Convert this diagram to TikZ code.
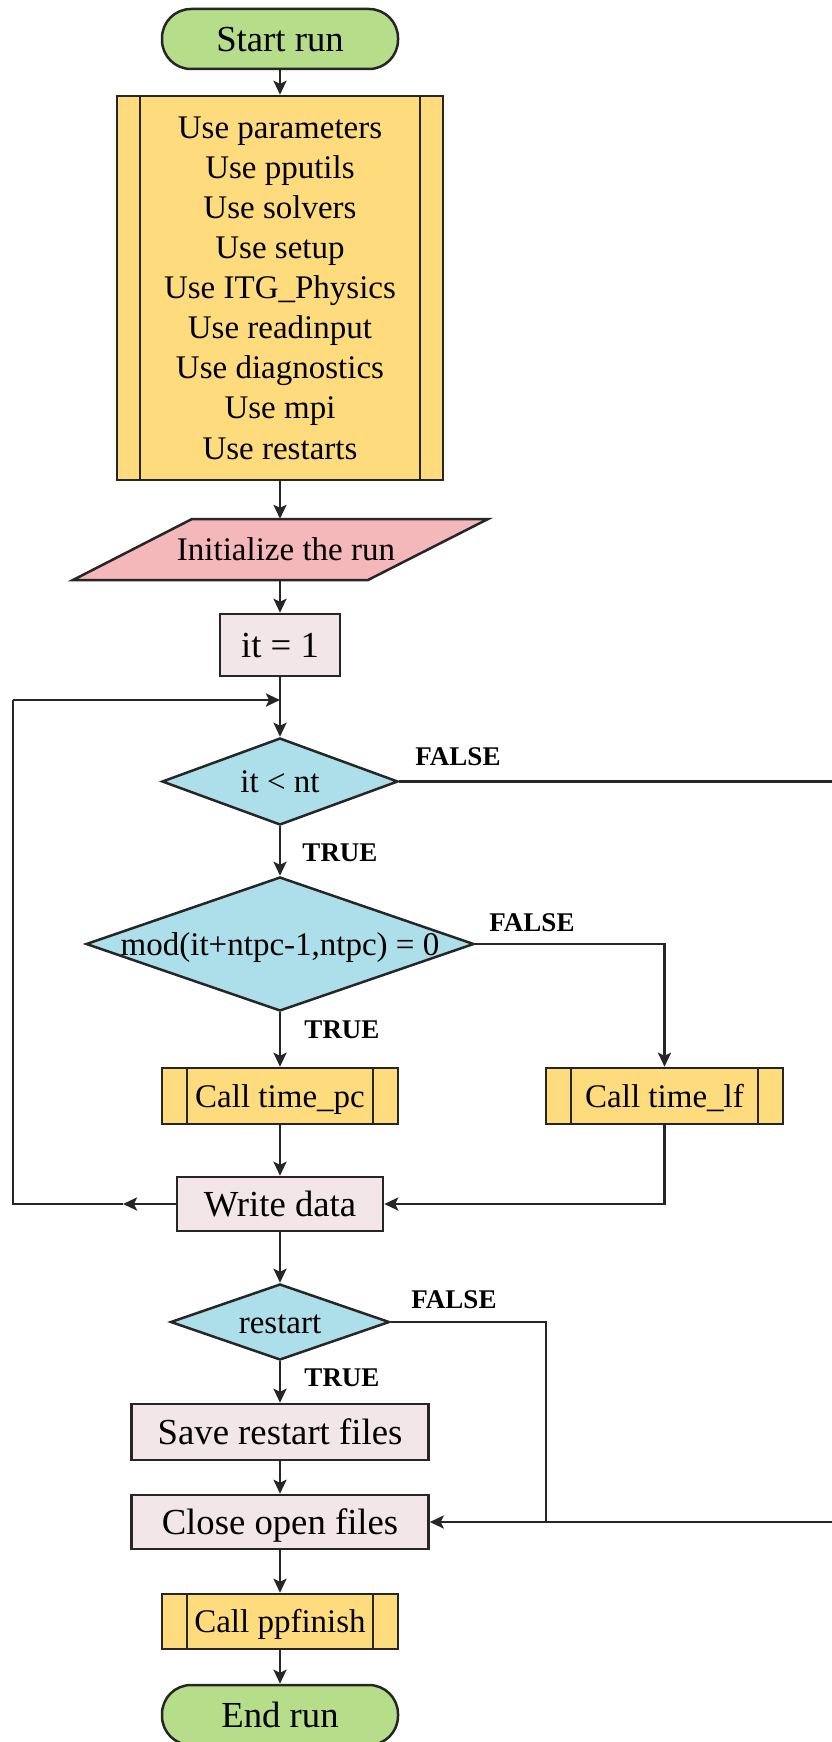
\documentclass[tikz,border=0pt]{standalone}
\usepackage{fontspec}
\setmainfont{Liberation Serif}
\usetikzlibrary{shapes.geometric,arrows.meta}

\definecolor{lineC}{HTML}{262626}
\definecolor{termC}{HTML}{B6DE8A}
\definecolor{subC}{HTML}{FEDC7E}
\definecolor{ioC}{HTML}{F4B7BA}
\definecolor{procC}{HTML}{F3E6E9}
\definecolor{decC}{HTML}{ADDFEA}

\newcommand\bigtxt{\fontsize{36.7}{44}\selectfont}
\newcommand\smtxt{\fontsize{33}{40.1}\selectfont}
\newcommand\lbltxt{\fontsize{27}{30}\selectfont\bfseries}

\tikzset{
  box/.style={draw=lineC, line width=2.5pt, inner sep=0pt, text=black, align=center},
  term/.style={box, fill=termC, rounded corners=29pt, minimum width=236, minimum height=60,
    font=\bigtxt, text height=28.9pt, text depth=3.1pt},
  proc/.style={box, fill=procC, font=\bigtxt, minimum height=55, text height=28.9pt, text depth=3.1pt},
  subr/.style={box, fill=subC, font=\smtxt, minimum width=236, minimum height=56,
    text height=25.5pt, text depth=3.5pt,
    path picture={
      \draw[lineC, line width=2.5pt]
        ([xshift=25pt]path picture bounding box.north west) --
        ([xshift=25pt]path picture bounding box.south west)
        ([xshift=-25pt]path picture bounding box.north east) --
        ([xshift=-25pt]path picture bounding box.south east);}},
  dec/.style={draw=lineC, line width=2.5pt, fill=decC, diamond, inner sep=0pt},
  dtext/.style={font=\smtxt, text height=25.5pt, text depth=3.5pt, inner sep=0pt},
  tf/.style={font=\lbltxt, inner sep=0pt, text=black},
  conn/.style={draw=lineC, line width=2.5pt},
  arr/.style={conn, -{Stealth[length=14pt, width=13pt, inset=3pt]}},
}

\begin{document}
\begin{tikzpicture}[x=1pt, y=-1pt]
\useasboundingbox (0,0) rectangle (831,1742);

% start terminal and module list
\node[term] (start) at (280,39) {Start run};
\node[box, fill=subC, font=\smtxt, minimum width=326, minimum height=384,
  path picture={
    \draw[lineC, line width=2.5pt]
      ([xshift=23pt]path picture bounding box.north west) --
      ([xshift=23pt]path picture bounding box.south west)
      ([xshift=-23pt]path picture bounding box.north east) --
      ([xshift=-23pt]path picture bounding box.south east);}]
  (mods) at (280,288) {Use parameters\\Use pputils\\Use solvers\\Use setup\\Use ITG\_Physics\\
  Use readinput\\Use diagnostics\\Use mpi\\Use restarts};

% input/output parallelogram
\filldraw[draw=lineC, line width=2.5pt, fill=ioC]
  (192,519) -- (488,519) -- (368,580) -- (73,580) -- cycle;
\node[font=\smtxt, inner sep=0pt, minimum height=61, text height=25.5pt, text depth=3.5pt]
  (init) at (286,549.5) {Initialize the run};

\node[proc, minimum width=120, minimum height=62] (it1) at (280,645) {it = 1};

% loop test
\node[dec, minimum width=236, minimum height=87,
  label={[dtext]center:it < nt}] (d1) at (280,781.5) {};
\node[dec, minimum width=388, minimum height=134,
  label={[dtext]center:mod(it+ntpc-1,ntpc) = 0}] (d2) at (280,944) {};

\node[subr] (tpc) at (280,1096) {Call time\_pc};
\node[subr, minimum width=237] (tlf) at (664.5,1096) {Call time\_lf};

\node[proc, minimum width=206, minimum height=54] (write) at (280,1204) {Write data};

\node[dec, minimum width=219, minimum height=76,
  label={[dtext]center:restart}] (d3) at (280,1322) {};

\node[proc, minimum width=297, minimum height=56] (save) at (280,1432) {Save restart files};
\node[proc, minimum width=297, minimum height=54] (close) at (280,1522) {Close open files};
\node[subr, minimum height=55] (ppf) at (280,1621.5) {Call ppfinish};
\node[term] (stop) at (280,1715) {End run};

% branch labels
\node[tf] (f1) at (458,757) {FALSE};
\node[tf] (t1) at (340,853) {TRUE};
\node[tf] (f2) at (532,923) {FALSE};
\node[tf] (t2) at (342,1030) {TRUE};
\node[tf] (f3) at (454,1300) {FALSE};
\node[tf] (t3) at (342,1378) {TRUE};

% helper points for the routed connectors
\coordinate (loopB) at (13,1204);
\coordinate (loopT) at (13,700);
\coordinate (loopMid) at (123,1204);
\coordinate (farA) at (840,781.5);
\coordinate (farB) at (840,1522);
\coordinate (rstA) at (546,1322);
\coordinate (join) at (546,1522);
\coordinate (lfA) at (664.5,944);
\coordinate (lfB) at (664.5,1204);

% straight connectors
\draw[arr] (start.south) -- (mods.north);
\draw[arr] (mods.south) -- (mods.south |- init.north);
\draw[arr] (mods.south |- init.south) -- (it1.north -| mods.south);
\draw[arr] (it1.south) -- (d1.north);
\draw[arr] (d1.south) -- (d2.north);
\draw[arr] (d2.south) -- (tpc.north);
\draw[arr] (tpc.south) -- (write.north);
\draw[arr] (write.south) -- (d3.north);
\draw[arr] (d3.south) -- (save.north);
\draw[arr] (save.south) -- (close.north);
\draw[arr] (close.south) -- (ppf.north);
\draw[arr] (ppf.south) -- (stop.north);

% loop back to the test
\draw[arr] (write.west) -- (loopMid);
\draw[conn] (loopMid) -- (loopB) -- (loopT);
\draw[arr] (loopT) -- (it1.south |- loopT);

% false branch of the step test
\draw[arr] (d2.east) -- (lfA) -- (tlf.north);
\draw[arr] (tlf.south) -- (lfB) -- (write.east);

% exits to closing files
\draw[conn] (d1.east) -- (farA) -- (farB) -- (join);
\draw[arr] (d3.east) -- (rstA) -- (join) -- (close.east);
\end{tikzpicture}
\end{document}
